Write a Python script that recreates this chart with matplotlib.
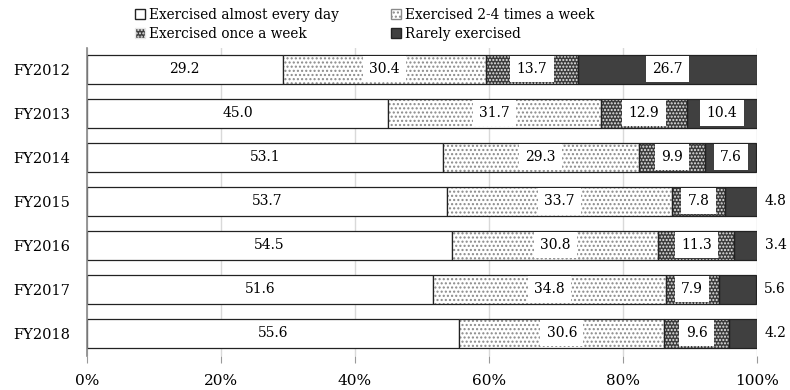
import numpy as np
import matplotlib
matplotlib.use("Agg")
import matplotlib.pyplot as plt
from matplotlib.patches import Patch

years = ["FY2012", "FY2013", "FY2014", "FY2015", "FY2016", "FY2017", "FY2018"]
almost_daily = [29.2, 45.0, 53.1, 53.7, 54.5, 51.6, 55.6]
two_to_four = [30.4, 31.7, 29.3, 33.7, 30.8, 34.8, 30.6]
once_week = [13.7, 12.9, 9.9, 7.8, 11.3, 7.9, 9.6]
rarely = [26.7, 10.4, 7.6, 4.8, 3.4, 5.6, 4.2]

series = [
    ("Exercised almost every day", almost_daily),
    ("Exercised 2-4 times a week", two_to_four),
    ("Exercised once a week", once_week),
    ("Rarely exercised", rarely),
]
# face, hatch, hatch colour per series
styles = [
    ("white", None, None),
    ("white", "....", "#8a8a8a"),
    ("#3c3c3c", ".....", "#e8e8e8"),
    ("#404040", None, None),
]

plt.rcParams["font.family"] = ["DejaVu Serif"]
plt.rcParams["font.size"] = 10
plt.rcParams["hatch.linewidth"] = 1.0

fig = plt.figure(figsize=(7.9, 3.9), dpi=100)
ax = fig.add_axes([0.110, 0.087, 0.848, 0.79])

y = np.arange(len(years))
h = 0.66
left = np.zeros(len(years))
for i, ((name, vals), (face, hatch, hcol)) in enumerate(zip(series, styles)):
    vals = np.asarray(vals)
    if hatch:
        ax.barh(y, vals, h, left=left, color=face, hatch=hatch,
                edgecolor=hcol, linewidth=0, zorder=2)
        ax.barh(y, vals, h, left=left, fill=False, edgecolor="#222222",
                linewidth=0.9, zorder=3)
    else:
        ax.barh(y, vals, h, left=left, color=face, edgecolor="#222222",
                linewidth=0.9, zorder=2)
    for yi, (l, v) in enumerate(zip(left, vals)):
        cx = l + v / 2
        if i == 0:
            ax.text(cx, yi, f"{v:.1f}", ha="center", va="center", zorder=4)
        elif i == 3 and v < 7:
            ax.text(l + v + 2.8, yi, f"{v:.1f}", ha="center", va="center", zorder=4)
        else:
            ax.text(cx, yi, f"{v:.1f}", ha="center", va="center", zorder=4,
                    bbox=dict(boxstyle="square,pad=0.45", fc="white", ec="none"))
    left = left + vals

ax.set_xlim(0, 100)
ax.set_ylim(6.52, -0.48)
ax.set_yticks(y)
ax.set_yticklabels(years, fontsize=10.5)
ax.set_xticks(np.arange(0, 101, 20))
ax.set_xticklabels([f"{t}%" for t in range(0, 101, 20)], fontsize=11)
ax.tick_params(axis="y", length=0, pad=12)
ax.tick_params(axis="x", length=5, color="#999999", pad=8)
ax.grid(axis="x", color="#d9d9d9", linewidth=1, zorder=0)
for s in ["top", "right", "bottom"]:
    ax.spines[s].set_visible(False)
ax.spines["left"].set_color("#888888")
ax.spines["left"].set_linewidth(1.2)

handles = {}
for (name, _), (face, hatch, hcol) in zip(series, styles):
    handles[name] = Patch(facecolor=face, hatch=hatch,
                          edgecolor=hcol if hatch else "#222222", label=name)
# legend fills column-wise: put the pairs so rows read left to right
order = [series[0][0], series[2][0], series[1][0], series[3][0]]
fig.legend(handles=[handles[n] for n in order], ncol=2, loc="upper left",
           bbox_to_anchor=(0.155, 1.012), frameon=False, fontsize=9.8,
           handlelength=0.75, handleheight=0.75, handletextpad=0.3,
           columnspacing=3.8, labelspacing=0.4)

fig.savefig("out.png", dpi=100)
